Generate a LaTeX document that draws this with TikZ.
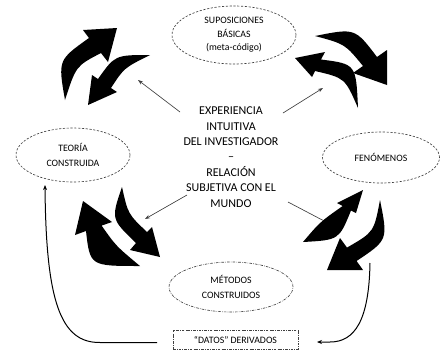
\documentclass[tikz,border=0pt]{standalone}
\usepackage{fontspec}
\setmainfont{Carlito}
\usetikzlibrary{shapes.geometric,arrows.meta}
\begin{document}
\begin{tikzpicture}[x=1pt,y=-1pt,
  ell/.style={ellipse, draw=black!75, line width=0.65pt, inner sep=0pt, align=center, text=black, font=\fontsize{9.8}{15}\selectfont},
  dsh/.style={dash pattern=on 2.2pt off 1.6pt},
  dshdot/.style={dash pattern=on 2.6pt off 1.2pt on 0.6pt off 1.2pt},
  big/.style={fill=black},
  thinarrow/.style={draw=black!75, line width=0.65pt, -{Stealth[length=5pt,width=3.6pt]}},
  conn/.style={draw=black, line width=1pt, -{Stealth[length=5pt,width=4pt]}}]
\useasboundingbox (0,0) rectangle (440,354);

% ellipses
\node[ell, dsh, minimum width=124pt, minimum height=58pt, font=\fontsize{9.8}{13.5}\selectfont] (sup) at (234,35) {SUPOSICIONES\\BÁSICAS\\(meta-código)};
\node[ell, dsh, minimum width=114pt, minimum height=54pt] (teo) at (73,155) {TEORÍA\\CONSTRUIDA};
\node[ell, dsh, minimum width=117pt, minimum height=51pt] (fen) at (381,157.5) {FENÓMENOS};
\node[ell, dshdot, minimum width=124pt, minimum height=50pt] (met) at (231,287) {MÉTODOS\\CONSTRUIDOS};
\node[draw=black!75, dshdot, line width=0.65pt, minimum width=125pt, minimum height=19pt, inner sep=0pt, text=black, font=\fontsize{9.8}{12}\selectfont] (dat) at (235.5,339.5) {“DATOS” DERIVADOS};

% centre text
\node[font=\fontsize{12}{15.4}\selectfont, align=center, text=black] (exp) at (231,157) {EXPERIENCIA\\INTUITIVA\\DEL INVESTIGADOR\\–\\RELACIÓN\\SUBJETIVA CON EL\\MUNDO};

% thin arrows from centre
\coordinate (s1) at (180,112); \coordinate (e1) at (138,80);
\coordinate (s2) at (283,113); \coordinate (e2) at (323,88);
\coordinate (s3) at (187,195); \coordinate (e3) at (145,219);
\coordinate (s4) at (288,202); \coordinate (e4) at (328,223);
\draw[thinarrow] (s1) -- (e1);
\draw[thinarrow] (s2) -- (e2);
\draw[thinarrow] (s3) -- (e3);
\draw[thinarrow] (s4) -- (e4);

% big curved arrows
% upper left
\fill[big] (65,100) .. controls (58,60) .. (89,38) -- (83,30) -- (117,28) -- (108,62) -- (101,53) .. controls (76,66) .. (65,100) -- cycle;
\fill[big] (150,55) .. controls (115,55) .. (98,79) -- (92,75) -- (88,105) -- (117,92) -- (111,88) .. controls (124,68) .. (150,55) -- cycle;
% upper right
\fill[big] (315,36) .. controls (355,28) .. (377,57) -- (387,50) -- (387,85) -- (353,73) -- (363,66) .. controls (345,44) .. (315,36) -- cycle;
\fill[big] (358,108) .. controls (345,78) .. (315,71) -- (312,77) -- (295,58) -- (325,52) -- (321,59.5) .. controls (356,64) .. (358,108) -- cycle;
% lower left
\fill[big] (122,187) .. controls (128,214) .. (147,232) -- (152,227) -- (160,257) -- (130,250) -- (136,243) .. controls (111,219) .. (122,187) -- cycle;
\fill[big] (140,266) .. controls (90,266) .. (86,231) -- (75,235) -- (83,201) -- (112,222) -- (101.6,225.6) .. controls (116,246) .. (140,266) -- cycle;
% lower right
\fill[big] (303,242) .. controls (320,222) .. (342.7,206) -- (337,203) -- (363,190) -- (356,213) -- (351,210.5) .. controls (339,240) .. (303,242) -- cycle;
\fill[big] (380,200) .. controls (388,240) .. (356.6,261) -- (363,270) -- (327,270) -- (340,238) -- (347,247.6) .. controls (374,232) .. (380,200) -- cycle;

% curved connectors
\coordinate (l0) at (157,342.5);
\coordinate (l1) at (45,185);
\draw[conn] (l0) -- (100,342.5) .. controls (60,343) and (46,300) .. (l1);
\coordinate (r0) at (370,263);
\coordinate (r1) at (317,342);
\draw[conn] (r0) .. controls (369,320) and (355,342) .. (330,342) -- (r1);
\end{tikzpicture}
\end{document}
